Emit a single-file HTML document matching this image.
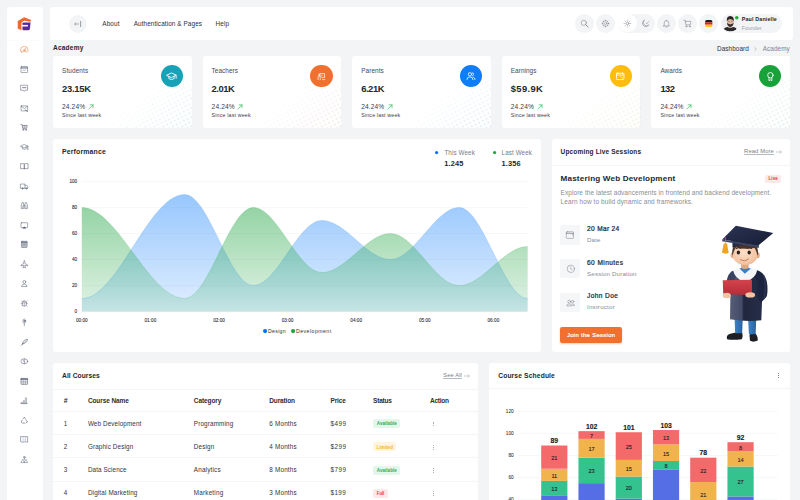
<!DOCTYPE html><html><head><meta charset="utf-8"><title>Academy Dashboard</title><style>
html,body{margin:0;padding:0;background:#f3f4f6;}
#pg{position:relative;width:800px;height:500px;overflow:hidden;background:#f3f4f6;font-family:"Liberation Sans", sans-serif;}
.t{position:absolute;white-space:nowrap;line-height:12px;height:12px;}
svg{position:absolute;overflow:visible}
</style></head><body><div id="pg">
<div style="position:absolute;left:7px;top:7px;width:35.5px;height:500px;background:#fff;border-radius:3px;"></div>
<div style="position:absolute;left:7px;top:40px;width:35.5px;height:1px;background:#fafbfc;border-radius:0px;"></div>
<svg style="left:17px;top:16.5px" width="15" height="15" viewBox="0 0 30 30">
<path d="M1.5 7.8 L14.4 0.6 L28.2 6.2 L27.4 9.4 L14.8 7.6 Q8.8 8.6 8.8 15 V26.6 L1.5 22.8 Z" fill="#ee6a2a"/>
<path d="M13 10.9 H27.2 L25.6 24 Q25.2 26.5 22.8 26.5 H12.8 Q10.9 26.5 10.9 24.5 V13 Q10.9 10.9 13 10.9 Z" fill="#5a2a9a"/>
<path d="M9.5 15.8 H21.8 V19 H9.5 Z" fill="#fff"/>
</svg>
<div style="position:absolute;left:50px;top:7px;width:743px;height:33px;background:#fff;border-radius:3px;"></div>
<div style="position:absolute;left:69px;top:14.5px;width:18px;height:18px;background:#f3f4f6;border-radius:9px;"></div>
<svg style="left:73px;top:19.5px" width="10" height="8" viewBox="0 0 10 8" fill="none" stroke="#8b919b" stroke-width="0.7"><path d="M1.5 4 H6 M3.3 2.3 L1.5 4 L3.3 5.7"/><path d="M7.6 1 V7" stroke="#5b6169" stroke-width="0.6"/></svg>
<div style="position:absolute;left:574.6999999999999px;top:13.5px;width:19.4px;height:19.4px;background:#f3f4f6;border-radius:9.7px;"></div>
<div style="position:absolute;left:596.0999999999999px;top:13.5px;width:19.4px;height:19.4px;background:#f3f4f6;border-radius:9.7px;"></div>
<div style="position:absolute;left:656.5px;top:13.5px;width:19.4px;height:19.4px;background:#f3f4f6;border-radius:9.7px;"></div>
<div style="position:absolute;left:677.9px;top:13.5px;width:19.4px;height:19.4px;background:#f3f4f6;border-radius:9.7px;"></div>
<div style="position:absolute;left:699.0999999999999px;top:13.5px;width:19.4px;height:19.4px;background:#f3f4f6;border-radius:9.7px;"></div>
<div style="position:absolute;left:617.7px;top:13.5px;width:37px;height:19.4px;background:#f3f4f6;border-radius:9.7px;"></div>
<div style="position:absolute;left:618.2px;top:14px;width:18.4px;height:18.4px;background:#fff;border-radius:9.2px;"></div>
<svg style="left:580px;top:19px" width="9" height="9" viewBox="0 0 9 9" fill="none" stroke="#7a808a" stroke-width="0.55" stroke-linecap="round" stroke-linejoin="round"><circle cx="3.8" cy="3.8" r="2.6"/><path d="M5.8 5.8 L8 8" stroke-width="0.9"/></svg>
<svg style="left:601.3px;top:18.7px" width="9" height="9" viewBox="0 0 9 9" fill="none" stroke="#7a808a" stroke-width="0.55" stroke-linecap="round" stroke-linejoin="round"><circle cx="4.5" cy="4.5" r="2.9" stroke-width="0.5"/><circle cx="4.5" cy="4.5" r="1.2" stroke-width="0.5"/><path d="M4.5 0.8V1.6M4.5 7.4V8.2M0.8 4.5H1.6M7.4 4.5H8.2M1.9 1.9L2.45 2.45M6.55 6.55L7.1 7.1M1.9 7.1L2.45 6.55M6.55 2.45L7.1 1.9" stroke-width="0.9" stroke-linecap="butt"/></svg>
<svg style="left:622.9px;top:18.7px" width="9" height="9" viewBox="0 0 9 9" fill="none" stroke="#7a808a" stroke-width="0.55" stroke-linecap="round" stroke-linejoin="round"><circle cx="4.5" cy="4.5" r="1.3"/><path d="M4.5 1V2.2M4.5 6.8V8M1 4.5H2.2M6.8 4.5H8M2 2L2.9 2.9M6.1 6.1L7 7M2 7L2.9 6.1M6.1 2.9L7 2" stroke-width="0.42"/></svg>
<svg style="left:640.5px;top:18.7px" width="9" height="9" viewBox="0 0 9 9" fill="none" stroke="#7a808a" stroke-width="0.55" stroke-linecap="round" stroke-linejoin="round"><path d="M3.2 1.2 A3.4 3.4 0 1 0 7.8 5.8 A3 3 0 0 1 3.2 1.2 Z"/><path d="M5.2 4 L5.9 4.7 L7.6 2.6" stroke-width="0.55"/></svg>
<svg style="left:661.7px;top:18.7px" width="9" height="9" viewBox="0 0 9 9" fill="none" stroke="#7a808a" stroke-width="0.55" stroke-linecap="round" stroke-linejoin="round"><path d="M2.2 6.3 V4 A2.3 2.3 0 0 1 6.8 4 V6.3 L7.4 7 H1.6 Z"/><path d="M3.8 7.9 H5.2 M4.5 1.1 V1.7"/></svg>
<svg style="left:683px;top:18.9px" width="9" height="9" viewBox="0 0 9 9" fill="none" stroke="#7a808a" stroke-width="0.55" stroke-linecap="round" stroke-linejoin="round"><path d="M0.8 1.2 H2.2 L2.8 5.8 H7.3 L7.9 2.4 H2.4"/><circle cx="3.3" cy="7.3" r="0.6"/><circle cx="6.8" cy="7.3" r="0.6"/></svg>
<svg style="left:705.1px;top:19.9px" width="7.6" height="7" viewBox="0 0 7.6 7"><defs><clipPath id="fl"><rect width="7.6" height="7" rx="1.9"/></clipPath></defs><g clip-path="url(#fl)"><rect width="7.6" height="2.4" fill="#1a1a1a"/><rect y="2.4" width="7.6" height="2.3" fill="#dd1f1f"/><rect y="4.7" width="7.6" height="2.3" fill="#fcc611"/></g></svg>
<div style="position:absolute;left:720.8px;top:14px;width:61px;height:18.8px;background:#f3f4f6;border-radius:9.4px;"></div>
<svg style="left:722.3px;top:15.2px" width="16.6" height="16.6" viewBox="0 0 16.6 16.6"><defs><clipPath id="av"><circle cx="8.3" cy="8.3" r="8.3"/></clipPath></defs>
<g clip-path="url(#av)"><rect width="16.6" height="16.6" fill="#eef0f2"/>
<path d="M0.8 16.6 Q1.2 12.6 5.4 12 L8.3 13 L11.2 12 Q15.4 12.6 15.8 16.6 Z" fill="#2b2b2d"/>
<rect x="6.9" y="10" width="2.8" height="3" fill="#c9a48c"/>
<ellipse cx="8.3" cy="6.9" rx="3.3" ry="4.3" fill="#dcb8a0"/>
<path d="M5 7.4 Q5.1 11.6 8.3 11.9 Q11.5 11.6 11.6 7.4 Q10.8 9.3 8.3 9.2 Q5.8 9.3 5 7.4Z" fill="#3a3330"/>
<path d="M4.9 6.6 Q4.1 1.2 8.3 1 Q12.5 1.2 11.7 6.6 Q11.2 4.2 8.3 4 Q5.4 4.2 4.9 6.6Z" fill="#2a2523"/>
<path d="M6.2 6.4 H7.4 M9.2 6.4 H10.4" stroke="#3a3330" stroke-width="0.5"/>
</g></svg>
<svg style="left:734.00px;top:15.00px" width="5.6" height="5.6" viewBox="0 0 5.6 5.6"><circle cx="2.8" cy="2.8" r="1.8" fill="#1fae3b"/></svg>
<svg style="left:754px;top:46.6px" width="3" height="4" viewBox="0 0 3 4" fill="none" stroke="#a0a5ae" stroke-width="0.6"><path d="M0.6 0.5 L2.3 2 L0.6 3.5"/></svg>
<svg width="0" height="0" style="left:0;top:0"><defs><linearGradient id="dfade" x1="0" y1="0" x2="1" y2="1"><stop offset="0.42" stop-color="#fff" stop-opacity="0"/><stop offset="0.6" stop-color="#fff" stop-opacity="0.45"/><stop offset="1" stop-color="#fff" stop-opacity="1"/></linearGradient><linearGradient id="dfade2" x1="0" y1="0" x2="1" y2="1"><stop offset="0.6" stop-color="#fff" stop-opacity="0"/><stop offset="1" stop-color="#fff" stop-opacity="1"/></linearGradient><mask id="dmask" maskContentUnits="objectBoundingBox"><rect width="1" height="1" fill="url(#dfade)"/></mask><mask id="dmask2" maskContentUnits="objectBoundingBox"><rect width="1" height="1" fill="url(#dfade2)"/></mask></defs></svg>
<div style="position:absolute;left:53.0px;top:56.4px;width:138.7px;height:71.3px;background:#fff;border-radius:3px;"></div>
<svg style="left:99.70px;top:59.70px" width="92.0" height="68.0" viewBox="0 0 92.0 68.0"><defs><pattern id="dp0" width="4.1" height="4.1" patternUnits="userSpaceOnUse" patternTransform="rotate(-27)"><circle cx="2.05" cy="2.05" r="0.85" fill="#59a4bf" fill-opacity="0.16"/></pattern><pattern id="dq0" width="4.1" height="4.1" patternUnits="userSpaceOnUse" patternTransform="rotate(-27)"><circle cx="2.05" cy="2.05" r="1.2" fill="#59a4bf" fill-opacity="0.09"/></pattern><clipPath id="dc0"><rect width="92.0" height="68.0" rx="3"/></clipPath></defs><g clip-path="url(#dc0)"><rect width="92.0" height="68.0" fill="url(#dp0)" mask="url(#dmask)"/><rect width="92.0" height="68.0" fill="url(#dq0)" mask="url(#dmask2)"/></g></svg>
<div style="position:absolute;left:160.75px;top:65.10000000000001px;width:22.2px;height:22.2px;background:#17a2b8;border-radius:11.1px;"></div>
<svg style="left:87.70px;top:103.7px" width="5.9" height="5.9" viewBox="0 0 5.4 5.4" fill="none" stroke="#35bd62" stroke-width="0.65" stroke-linecap="round" stroke-linejoin="round"><path d="M0.8 4.6 L4.6 0.8 M1.9 0.8 H4.6 V3.5"/></svg>
<div style="position:absolute;left:202.6px;top:56.4px;width:138.7px;height:71.3px;background:#fff;border-radius:3px;"></div>
<svg style="left:249.30px;top:59.70px" width="92.0" height="68.0" viewBox="0 0 92.0 68.0"><defs><pattern id="dp1" width="4.1" height="4.1" patternUnits="userSpaceOnUse" patternTransform="rotate(-27)"><circle cx="2.05" cy="2.05" r="0.85" fill="#bb8e81" fill-opacity="0.16"/></pattern><pattern id="dq1" width="4.1" height="4.1" patternUnits="userSpaceOnUse" patternTransform="rotate(-27)"><circle cx="2.05" cy="2.05" r="1.2" fill="#bb8e81" fill-opacity="0.09"/></pattern><clipPath id="dc1"><rect width="92.0" height="68.0" rx="3"/></clipPath></defs><g clip-path="url(#dc1)"><rect width="92.0" height="68.0" fill="url(#dp1)" mask="url(#dmask)"/><rect width="92.0" height="68.0" fill="url(#dq1)" mask="url(#dmask2)"/></g></svg>
<div style="position:absolute;left:310.34999999999997px;top:65.10000000000001px;width:22.2px;height:22.2px;background:#f0712f;border-radius:11.1px;"></div>
<svg style="left:237.30px;top:103.7px" width="5.9" height="5.9" viewBox="0 0 5.4 5.4" fill="none" stroke="#35bd62" stroke-width="0.65" stroke-linecap="round" stroke-linejoin="round"><path d="M0.8 4.6 L4.6 0.8 M1.9 0.8 H4.6 V3.5"/></svg>
<div style="position:absolute;left:352.2px;top:56.4px;width:138.7px;height:71.3px;background:#fff;border-radius:3px;"></div>
<svg style="left:398.90px;top:59.70px" width="92.0" height="68.0" viewBox="0 0 92.0 68.0"><defs><pattern id="dp2" width="4.1" height="4.1" patternUnits="userSpaceOnUse" patternTransform="rotate(-27)"><circle cx="2.05" cy="2.05" r="0.85" fill="#5594db" fill-opacity="0.16"/></pattern><pattern id="dq2" width="4.1" height="4.1" patternUnits="userSpaceOnUse" patternTransform="rotate(-27)"><circle cx="2.05" cy="2.05" r="1.2" fill="#5594db" fill-opacity="0.09"/></pattern><clipPath id="dc2"><rect width="92.0" height="68.0" rx="3"/></clipPath></defs><g clip-path="url(#dc2)"><rect width="92.0" height="68.0" fill="url(#dp2)" mask="url(#dmask)"/><rect width="92.0" height="68.0" fill="url(#dq2)" mask="url(#dmask2)"/></g></svg>
<div style="position:absolute;left:459.94999999999993px;top:65.10000000000001px;width:22.2px;height:22.2px;background:#0f7df8;border-radius:11.1px;"></div>
<svg style="left:386.90px;top:103.7px" width="5.9" height="5.9" viewBox="0 0 5.4 5.4" fill="none" stroke="#35bd62" stroke-width="0.65" stroke-linecap="round" stroke-linejoin="round"><path d="M0.8 4.6 L4.6 0.8 M1.9 0.8 H4.6 V3.5"/></svg>
<div style="position:absolute;left:501.79999999999995px;top:56.4px;width:138.7px;height:71.3px;background:#fff;border-radius:3px;"></div>
<svg style="left:548.50px;top:59.70px" width="92.0" height="68.0" viewBox="0 0 92.0 68.0"><defs><pattern id="dp3" width="4.1" height="4.1" patternUnits="userSpaceOnUse" patternTransform="rotate(-27)"><circle cx="2.05" cy="2.05" r="0.85" fill="#c0b072" fill-opacity="0.16"/></pattern><pattern id="dq3" width="4.1" height="4.1" patternUnits="userSpaceOnUse" patternTransform="rotate(-27)"><circle cx="2.05" cy="2.05" r="1.2" fill="#c0b072" fill-opacity="0.09"/></pattern><clipPath id="dc3"><rect width="92.0" height="68.0" rx="3"/></clipPath></defs><g clip-path="url(#dc3)"><rect width="92.0" height="68.0" fill="url(#dp3)" mask="url(#dmask)"/><rect width="92.0" height="68.0" fill="url(#dq3)" mask="url(#dmask2)"/></g></svg>
<div style="position:absolute;left:609.55px;top:65.10000000000001px;width:22.2px;height:22.2px;background:#fdbc0e;border-radius:11.1px;"></div>
<svg style="left:536.50px;top:103.7px" width="5.9" height="5.9" viewBox="0 0 5.4 5.4" fill="none" stroke="#35bd62" stroke-width="0.65" stroke-linecap="round" stroke-linejoin="round"><path d="M0.8 4.6 L4.6 0.8 M1.9 0.8 H4.6 V3.5"/></svg>
<div style="position:absolute;left:651.4px;top:56.4px;width:138.7px;height:71.3px;background:#fff;border-radius:3px;"></div>
<svg style="left:698.10px;top:59.70px" width="92.0" height="68.0" viewBox="0 0 92.0 68.0"><defs><pattern id="dp4" width="4.1" height="4.1" patternUnits="userSpaceOnUse" patternTransform="rotate(-27)"><circle cx="2.05" cy="2.05" r="0.85" fill="#59a586" fill-opacity="0.16"/></pattern><pattern id="dq4" width="4.1" height="4.1" patternUnits="userSpaceOnUse" patternTransform="rotate(-27)"><circle cx="2.05" cy="2.05" r="1.2" fill="#59a586" fill-opacity="0.09"/></pattern><clipPath id="dc4"><rect width="92.0" height="68.0" rx="3"/></clipPath></defs><g clip-path="url(#dc4)"><rect width="92.0" height="68.0" fill="url(#dp4)" mask="url(#dmask)"/><rect width="92.0" height="68.0" fill="url(#dq4)" mask="url(#dmask2)"/></g></svg>
<div style="position:absolute;left:759.15px;top:65.10000000000001px;width:22.2px;height:22.2px;background:#17a33a;border-radius:11.1px;"></div>
<svg style="left:686.10px;top:103.7px" width="5.9" height="5.9" viewBox="0 0 5.4 5.4" fill="none" stroke="#35bd62" stroke-width="0.65" stroke-linecap="round" stroke-linejoin="round"><path d="M0.8 4.6 L4.6 0.8 M1.9 0.8 H4.6 V3.5"/></svg>
<svg style="left:166.35px;top:70.80px" width="11" height="11" viewBox="0 0 10 10" fill="none" stroke="#fff" stroke-width="0.8" stroke-linecap="round" stroke-linejoin="round"><path d="M0.8 3.8 L5 1.8 L9.2 3.8 L5 5.8 Z"/><path d="M2.6 4.9 V6.9 Q5 8.7 7.4 6.9 V4.9"/><path d="M9.2 3.8 V6.6"/></svg>
<svg style="left:317.10px;top:71.60px" width="9.0" height="9.0" viewBox="0 0 10 10" fill="none" stroke="#fff" stroke-width="0.8" stroke-linecap="round" stroke-linejoin="round"><path d="M3.2 1.8 H8.4 V6.2 H5.6"/><circle cx="2.5" cy="3.2" r="0.9"/><path d="M1.2 8.4 V5.6 Q1.2 4.9 2 4.9 H4.4 L5.8 4 M3.6 8.4 V6.4 M6.2 8.4 H8.6"/></svg>
<svg style="left:466.05px;top:71.35px" width="9.9" height="9.9" viewBox="0 0 10 10" fill="none" stroke="#fff" stroke-width="0.8" stroke-linecap="round" stroke-linejoin="round"><circle cx="4" cy="3.3" r="1.7"/><path d="M0.9 8.6 Q1 5.9 4 5.9 Q7 5.9 7.1 8.6"/><path d="M6.4 1.8 Q7.9 2.1 7.7 3.6 Q7.5 4.7 6.6 4.9 M7.6 6.2 Q9 6.6 9.1 8.6"/></svg>
<svg style="left:615.40px;top:71.20px" width="10.4" height="10.4" viewBox="0 0 10 10" fill="none" stroke="#fff" stroke-width="0.8" stroke-linecap="round" stroke-linejoin="round"><rect x="1.4" y="2.2" width="7.2" height="6" rx="0.5"/><path d="M1.4 3.9 H8.6"/><path d="M2.8 1.6 V2.6 M7.2 1.6 V2.6" /><path d="M5.2 5.4 L7.4 6.6" stroke-width="0.6"/></svg>
<svg style="left:764.90px;top:71.00px" width="10.8" height="10.8" viewBox="0 0 10 10" fill="none" stroke="#fff" stroke-width="0.8" stroke-linecap="round" stroke-linejoin="round"><circle cx="5" cy="3.9" r="2.5"/><path d="M3.7 6.1 V9 L5 8.2 L6.3 9 V6.1"/></svg>
<div style="position:absolute;left:53px;top:138.7px;width:488px;height:213px;background:#fff;border-radius:3px;"></div>
<svg style="left:434.40px;top:150.10px" width="5.2" height="5.2" viewBox="0 0 5.2 5.2"><circle cx="2.6" cy="2.6" r="1.6" fill="#0d6efd"/></svg>
<svg style="left:491.60px;top:150.10px" width="5.2" height="5.2" viewBox="0 0 5.2 5.2"><circle cx="2.6" cy="2.6" r="1.6" fill="#1fa53c"/></svg>
<svg style="left:0;top:0" width="800" height="500" viewBox="0 0 800 500"><defs><linearGradient id="gb" x1="0" y1="0" x2="0" y2="1"><stop offset="0" stop-color="#2f8ffb" stop-opacity="0.5"/><stop offset="1" stop-color="#2f8ffb" stop-opacity="0.15"/></linearGradient><linearGradient id="gg" x1="0" y1="0" x2="0" y2="1"><stop offset="0" stop-color="#2aa84a" stop-opacity="0.50"/><stop offset="1" stop-color="#2aa84a" stop-opacity="0.14"/></linearGradient></defs><path d="M81.8 311.60 H527.6" stroke="#eceef1" stroke-width="0.5"/><path d="M81.8 285.56 H527.6" stroke="#eceef1" stroke-width="0.5"/><path d="M81.8 259.52 H527.6" stroke="#eceef1" stroke-width="0.5"/><path d="M81.8 233.48 H527.6" stroke="#eceef1" stroke-width="0.5"/><path d="M81.8 207.44 H527.6" stroke="#eceef1" stroke-width="0.5"/><path d="M81.8 181.40 H527.6" stroke="#eceef1" stroke-width="0.5"/><path d="M81.80 298.58 C117.81 298.58 148.69 194.42 184.70 194.42 C208.71 194.42 229.29 285.56 253.30 285.56 C277.31 285.56 297.89 220.46 321.90 220.46 C345.91 220.46 366.49 259.52 390.50 259.52 C414.51 259.52 435.09 207.44 459.10 207.44 C483.11 207.44 503.69 298.58 527.70 298.58 L527.6 311.6 L81.8 311.6 Z" fill="url(#gb)"/><path d="M81.80 298.58 C117.81 298.58 148.69 194.42 184.70 194.42 C208.71 194.42 229.29 285.56 253.30 285.56 C277.31 285.56 297.89 220.46 321.90 220.46 C345.91 220.46 366.49 259.52 390.50 259.52 C414.51 259.52 435.09 207.44 459.10 207.44 C483.11 207.44 503.69 298.58 527.70 298.58" fill="none" stroke="#4a97fb" stroke-opacity="0.55" stroke-width="0.45"/><path d="M81.80 207.44 C117.81 207.44 148.69 298.58 184.70 298.58 C208.71 298.58 229.29 207.44 253.30 207.44 C277.31 207.44 297.89 272.54 321.90 272.54 C345.91 272.54 366.49 233.48 390.50 233.48 C414.51 233.48 435.09 285.56 459.10 285.56 C483.11 285.56 503.69 246.50 527.70 246.50 L527.6 311.6 L81.8 311.6 Z" fill="url(#gg)"/><path d="M81.80 207.44 C117.81 207.44 148.69 298.58 184.70 298.58 C208.71 298.58 229.29 207.44 253.30 207.44 C277.31 207.44 297.89 272.54 321.90 272.54 C345.91 272.54 366.49 233.48 390.50 233.48 C414.51 233.48 435.09 285.56 459.10 285.56 C483.11 285.56 503.69 246.50 527.70 246.50" fill="none" stroke="#49b565" stroke-opacity="0.55" stroke-width="0.45"/><path d="M81.80 311.6 v1.6" stroke="#e0e2e6" stroke-width="0.4"/><path d="M150.40 311.6 v1.6" stroke="#e0e2e6" stroke-width="0.4"/><path d="M219.00 311.6 v1.6" stroke="#e0e2e6" stroke-width="0.4"/><path d="M287.60 311.6 v1.6" stroke="#e0e2e6" stroke-width="0.4"/><path d="M356.20 311.6 v1.6" stroke="#e0e2e6" stroke-width="0.4"/><path d="M424.80 311.6 v1.6" stroke="#e0e2e6" stroke-width="0.4"/><path d="M493.40 311.6 v1.6" stroke="#e0e2e6" stroke-width="0.4"/></svg>
<svg style="left:261.70px;top:328.00px" width="6.2" height="6.2" viewBox="0 0 6.2 6.2"><circle cx="3.1" cy="3.1" r="2.1" fill="#0d6efd"/></svg>
<svg style="left:289.70px;top:328.00px" width="6.2" height="6.2" viewBox="0 0 6.2 6.2"><circle cx="3.1" cy="3.1" r="2.1" fill="#1fa53c"/></svg>
<div style="position:absolute;left:551.6px;top:138.7px;width:238.6px;height:213px;background:#fff;border-radius:3px;"></div>
<div style="position:absolute;left:551.6px;top:165px;width:238.6px;height:1px;background:#f4f5f7;border-radius:0px;"></div>
<svg style="left:775.6px;top:150px" width="6" height="4" viewBox="0 0 6 4" fill="none" stroke="#8a8f98" stroke-width="0.42" stroke-linecap="round" stroke-linejoin="round"><path d="M0.4 2 H5.4 M3.9 0.6 L5.4 2 L3.9 3.4"/></svg>
<div style="position:absolute;left:765px;top:174.5px;width:16.3px;height:8.6px;background:#fde8e8;border-radius:2px;"></div>
<div style="position:absolute;left:560.4px;top:225px;width:19.8px;height:19.5px;background:#f5f6f8;border-radius:2px;"></div>
<div style="position:absolute;left:560.4px;top:258.7px;width:19.8px;height:19.5px;background:#f5f6f8;border-radius:2px;"></div>
<div style="position:absolute;left:560.4px;top:292.5px;width:19.8px;height:19.5px;background:#f5f6f8;border-radius:2px;"></div>
<svg style="left:565.40px;top:229.70px" width="9.8" height="9.8" viewBox="0 0 10 10" fill="none" stroke="#7d838d" stroke-width="0.55" stroke-linecap="round" stroke-linejoin="round"><rect x="1.3" y="1.8" width="7.4" height="6.8" rx="1"/><path d="M1.3 3.4 H8.7" stroke-width="0.8"/><path d="M7.6 4.6 V5.2"/></svg>
<svg style="left:565.50px;top:263.60px" width="9.6" height="9.6" viewBox="0 0 10 10" fill="none" stroke="#7d838d" stroke-width="0.55" stroke-linecap="round" stroke-linejoin="round"><circle cx="5" cy="5" r="3.8"/><path d="M5 2.9 V5 L6.5 6"/></svg>
<svg style="left:565.60px;top:297.60px" width="9.4" height="9.4" viewBox="0 0 10 10" fill="none" stroke="#7d838d" stroke-width="0.55" stroke-linecap="round" stroke-linejoin="round"><circle cx="3.4" cy="3.8" r="1.5"/><circle cx="7" cy="3.8" r="1.3"/><path d="M0.9 8 Q1 6.2 3.4 6.2 Q5.8 6.2 5.9 8 Z M6.4 6.2 Q8.9 6 9.1 8 H7"/></svg>
<div style="position:absolute;left:560.4px;top:326.6px;width:61.8px;height:16.6px;background:#f26f2d;border-radius:2.2px;box-shadow:0 1px 2px rgba(242,111,45,0.35);"></div>
<svg style="left:700px;top:215px" width="90" height="135" viewBox="0 0 333 500">
<defs>
<linearGradient id="gown" x1="0" y1="0" x2="1" y2="0"><stop offset="0" stop-color="#555d78"/><stop offset="0.36" stop-color="#434b66"/><stop offset="0.42" stop-color="#20273f"/><stop offset="1" stop-color="#262d47"/></linearGradient>
<linearGradient id="capg" x1="0" y1="0" x2="1" y2="1"><stop offset="0" stop-color="#2c3555"/><stop offset="1" stop-color="#161c33"/></linearGradient>
<radialGradient id="skin" cx="0.45" cy="0.4" r="0.75"><stop offset="0" stop-color="#fde0c9"/><stop offset="0.7" stop-color="#f3c4a3"/><stop offset="1" stop-color="#dc9f7c"/></radialGradient>
<linearGradient id="book" x1="0" y1="0" x2="0" y2="1"><stop offset="0" stop-color="#d4434c"/><stop offset="1" stop-color="#b32c37"/></linearGradient>
<linearGradient id="jean" x1="0" y1="0" x2="1" y2="0"><stop offset="0" stop-color="#3d83c6"/><stop offset="1" stop-color="#2a62a3"/></linearGradient>
</defs>
<!-- shoes -->
<path d="M99 452 Q100 440 128 436 L156 436 Q160 452 154 460 Q120 464 100 460 Z" fill="#1e1f24"/>
<path d="M183 444 Q184 438 206 440 Q216 452 213 466 Q196 472 185 466 Z" fill="#1e1f24"/>
<!-- legs -->
<path d="M128 384 H158 L156 438 H130 Z" fill="url(#jean)"/>
<path d="M178 384 H208 L206 442 H181 Z" fill="url(#jean)"/>
<!-- gown body -->
<path d="M118 208 Q165 192 214 206 Q230 214 232 250 L227 390 Q170 396 111 386 L113 250 Q112 216 118 208 Z" fill="url(#gown)"/>
<!-- right sleeve (viewer right) -->
<path d="M206 204 Q244 212 249 258 Q252 296 244 306 L226 324 Q214 312 208 290 Q222 258 204 230 Z" fill="#1c2440"/>
<path d="M236 222 Q246 262 238 312" fill="none" stroke="#39425f" stroke-width="3"/>
<!-- left sleeve -->
<path d="M124 206 Q102 214 98 250 L92 292 Q106 302 118 296 Q120 250 132 230 Z" fill="#39435f"/>
<!-- collar white -->
<path d="M122 204 Q140 196 150 196 L166 216 L184 196 Q200 196 212 204 Q206 236 166 250 Q128 236 122 204 Z" fill="#f4f5f7"/>
<path d="M146 198 Q165 190 188 198 L166 218 Z" fill="#3f7fc4"/>
<!-- neck -->
<path d="M152 176 H180 V196 Q166 204 152 196 Z" fill="#e3a683"/>
<!-- ears -->
<ellipse cx="121" cy="149" rx="8" ry="11" fill="#eab390"/>
<ellipse cx="213" cy="149" rx="8" ry="11" fill="#e0a47f"/>
<!-- head -->
<ellipse cx="167" cy="146" rx="46" ry="40" fill="url(#skin)"/>
<!-- hair -->
<path d="M120 152 Q112 100 165 96 Q222 100 214 152 Q209 132 202 122 Q162 128 133 120 Q124 132 120 152 Z" fill="#4a342a"/>
<!-- brows, eyes, smile -->
<path d="M134 124 Q142 119 151 123 M174 123 Q183 119 191 124" fill="none" stroke="#3a2a22" stroke-width="3.5" stroke-linecap="round"/>
<ellipse cx="142" cy="139" rx="6.2" ry="7.6" fill="#2a2220"/>
<ellipse cx="182" cy="139" rx="6.2" ry="7.6" fill="#2a2220"/>
<path d="M150 165 Q164 175 179 163" fill="none" stroke="#b5694d" stroke-width="3" stroke-linecap="round"/>
<!-- cap -->
<path d="M120 92 Q166 76 217 96 L217 122 Q168 100 120 120 Z" fill="#232b47"/>
<path d="M82 91 L217 113 L217 120 L82 97 Z" fill="#3c4666"/>
<path d="M82 90.7 L132.5 40 L271 66.6 L216.6 112.3 Z" fill="url(#capg)"/>
<!-- tassel -->
<path d="M94 82 V110" stroke="#d98d16" stroke-width="2.6"/>
<path d="M88 106 H100 L106 140 Q95 147 81 139 Z" fill="#f0a31e"/>
<!-- book -->
<path d="M84 242 L192 240 L193 298 L86 292 Z" fill="url(#book)"/>
<!-- hands -->
<ellipse cx="99" cy="298" rx="15" ry="10" fill="#f3c3a3"/>
<ellipse cx="186" cy="296" rx="18" ry="10" fill="#f3c3a3"/>
</svg>
<div style="position:absolute;left:53px;top:362.9px;width:425px;height:140px;background:#fff;border-radius:3px;"></div>
<svg style="left:463.6px;top:373.8px" width="6" height="4" viewBox="0 0 6 4" fill="none" stroke="#8a8f98" stroke-width="0.42" stroke-linecap="round" stroke-linejoin="round"><path d="M0.4 2 H5.4 M3.9 0.6 L5.4 2 L3.9 3.4"/></svg>
<div style="position:absolute;left:53px;top:389px;width:425px;height:1px;background:#f4f5f7;border-radius:0px;"></div>
<div style="position:absolute;left:53px;top:411px;width:425px;height:1px;background:#f4f5f7;border-radius:0px;"></div>
<div style="position:absolute;left:53px;top:434px;width:425px;height:1px;background:#f4f5f7;border-radius:0px;"></div>
<div style="position:absolute;left:53px;top:457px;width:425px;height:1px;background:#f4f5f7;border-radius:0px;"></div>
<div style="position:absolute;left:53px;top:481px;width:425px;height:1px;background:#f4f5f7;border-radius:0px;"></div>
<div style="position:absolute;left:373.1px;top:419.20000000000005px;width:27.4px;height:9.1px;background:#e3f6ea;border-radius:2px;"></div>
<svg style="left:431.57px;top:420.52px" width="2.96" height="2.96" viewBox="0 0 2.96 2.96"><circle cx="1.48" cy="1.48" r="0.48" fill="#5b626c"/></svg>
<svg style="left:431.57px;top:422.42px" width="2.96" height="2.96" viewBox="0 0 2.96 2.96"><circle cx="1.48" cy="1.48" r="0.48" fill="#5b626c"/></svg>
<svg style="left:431.57px;top:424.32px" width="2.96" height="2.96" viewBox="0 0 2.96 2.96"><circle cx="1.48" cy="1.48" r="0.48" fill="#5b626c"/></svg>
<div style="position:absolute;left:373.1px;top:442.40000000000003px;width:23.4px;height:9.1px;background:#fff5df;border-radius:2px;"></div>
<svg style="left:431.57px;top:443.72px" width="2.96" height="2.96" viewBox="0 0 2.96 2.96"><circle cx="1.48" cy="1.48" r="0.48" fill="#5b626c"/></svg>
<svg style="left:431.57px;top:445.62px" width="2.96" height="2.96" viewBox="0 0 2.96 2.96"><circle cx="1.48" cy="1.48" r="0.48" fill="#5b626c"/></svg>
<svg style="left:431.57px;top:447.52px" width="2.96" height="2.96" viewBox="0 0 2.96 2.96"><circle cx="1.48" cy="1.48" r="0.48" fill="#5b626c"/></svg>
<div style="position:absolute;left:373.1px;top:465.6px;width:27.4px;height:9.1px;background:#e3f6ea;border-radius:2px;"></div>
<svg style="left:431.57px;top:466.92px" width="2.96" height="2.96" viewBox="0 0 2.96 2.96"><circle cx="1.48" cy="1.48" r="0.48" fill="#5b626c"/></svg>
<svg style="left:431.57px;top:468.82px" width="2.96" height="2.96" viewBox="0 0 2.96 2.96"><circle cx="1.48" cy="1.48" r="0.48" fill="#5b626c"/></svg>
<svg style="left:431.57px;top:470.72px" width="2.96" height="2.96" viewBox="0 0 2.96 2.96"><circle cx="1.48" cy="1.48" r="0.48" fill="#5b626c"/></svg>
<div style="position:absolute;left:373.1px;top:488.80000000000007px;width:14.8px;height:9.1px;background:#fde8e8;border-radius:2px;"></div>
<svg style="left:431.57px;top:490.12px" width="2.96" height="2.96" viewBox="0 0 2.96 2.96"><circle cx="1.48" cy="1.48" r="0.48" fill="#5b626c"/></svg>
<svg style="left:431.57px;top:492.02px" width="2.96" height="2.96" viewBox="0 0 2.96 2.96"><circle cx="1.48" cy="1.48" r="0.48" fill="#5b626c"/></svg>
<svg style="left:431.57px;top:493.92px" width="2.96" height="2.96" viewBox="0 0 2.96 2.96"><circle cx="1.48" cy="1.48" r="0.48" fill="#5b626c"/></svg>
<div style="position:absolute;left:488.7px;top:362.9px;width:301.5px;height:140px;background:#fff;border-radius:3px;"></div>
<div style="position:absolute;left:488.7px;top:388px;width:301.5px;height:1px;background:#f4f5f7;border-radius:0px;"></div>
<svg style="left:776.50px;top:372.10px" width="3.0" height="3.0" viewBox="0 0 3.0 3.0"><circle cx="1.5" cy="1.5" r="0.5" fill="#5b626c"/></svg>
<svg style="left:776.50px;top:374.10px" width="3.0" height="3.0" viewBox="0 0 3.0 3.0"><circle cx="1.5" cy="1.5" r="0.5" fill="#5b626c"/></svg>
<svg style="left:776.50px;top:376.10px" width="3.0" height="3.0" viewBox="0 0 3.0 3.0"><circle cx="1.5" cy="1.5" r="0.5" fill="#5b626c"/></svg>
<svg style="left:0;top:0" width="800" height="500" viewBox="0 0 800 500"><path d="M518 499.74 H777.5" stroke="#eceef1" stroke-width="0.5"/><path d="M518 477.61 H777.5" stroke="#eceef1" stroke-width="0.5"/><path d="M518 455.48 H777.5" stroke="#eceef1" stroke-width="0.5"/><path d="M518 433.35 H777.5" stroke="#eceef1" stroke-width="0.5"/><path d="M518 411.22 H777.5" stroke="#eceef1" stroke-width="0.5"/><rect x="541.20" y="495.31" width="26.2" height="48.69" fill="#556ee6"/><rect x="541.20" y="480.93" width="26.2" height="14.38" fill="#34c38f"/><rect x="541.20" y="468.76" width="26.2" height="12.17" fill="#f1b44c"/><rect x="541.20" y="445.52" width="26.2" height="23.24" fill="#f46a6a"/><rect x="578.45" y="483.14" width="26.2" height="60.86" fill="#556ee6"/><rect x="578.45" y="457.69" width="26.2" height="25.45" fill="#34c38f"/><rect x="578.45" y="438.88" width="26.2" height="18.81" fill="#f1b44c"/><rect x="578.45" y="431.14" width="26.2" height="7.75" fill="#f46a6a"/><rect x="615.70" y="498.63" width="26.2" height="45.37" fill="#556ee6"/><rect x="615.70" y="476.50" width="26.2" height="22.13" fill="#34c38f"/><rect x="615.70" y="459.91" width="26.2" height="16.60" fill="#f1b44c"/><rect x="615.70" y="432.24" width="26.2" height="27.66" fill="#f46a6a"/><rect x="652.95" y="469.86" width="26.2" height="74.14" fill="#556ee6"/><rect x="652.95" y="461.01" width="26.2" height="8.85" fill="#34c38f"/><rect x="652.95" y="444.41" width="26.2" height="16.60" fill="#f1b44c"/><rect x="652.95" y="430.03" width="26.2" height="14.38" fill="#f46a6a"/><rect x="690.20" y="519.66" width="26.2" height="24.34" fill="#556ee6"/><rect x="690.20" y="505.27" width="26.2" height="14.38" fill="#34c38f"/><rect x="690.20" y="482.04" width="26.2" height="23.24" fill="#f1b44c"/><rect x="690.20" y="457.69" width="26.2" height="24.34" fill="#f46a6a"/><rect x="727.45" y="496.42" width="26.2" height="47.58" fill="#556ee6"/><rect x="727.45" y="466.55" width="26.2" height="29.88" fill="#34c38f"/><rect x="727.45" y="451.05" width="26.2" height="15.49" fill="#f1b44c"/><rect x="727.45" y="442.20" width="26.2" height="8.85" fill="#f46a6a"/></svg>
<svg style="left:20.00px;top:45.40px" width="8.6" height="8.6" viewBox="0 0 10 10" fill="none" stroke="#f0753a" stroke-width="0.62" stroke-linecap="round" stroke-linejoin="round"><path d="M1.6 8.2 Q0.5 7.4 0.6 5.8 A4.4 4.2 0 0 1 9.4 5.8 Q9.5 7.4 8.4 8.2 Q8 8.5 7.6 8.1 Q5 6.6 2.4 8.1 Q2 8.5 1.6 8.2 Z"/><circle cx="5" cy="6" r="1"/><path d="M5.6 5.2 L6.9 3.6"/></svg>
<svg style="left:20.00px;top:64.90px" width="8.6" height="8.6" viewBox="0 0 10 10" fill="none" stroke="#596173" stroke-width="0.62" stroke-linecap="round" stroke-linejoin="round"><rect x="1.2" y="1.8" width="7.6" height="7" rx="0.6"/><path d="M1.2 3.4 H8.8" stroke-width="1.1"/><path d="M3.4 6.6 L4.4 5.8 L5.4 6.3 L6.6 5.2" stroke-width="0.5"/></svg>
<svg style="left:20.00px;top:84.40px" width="8.6" height="8.6" viewBox="0 0 10 10" fill="none" stroke="#596173" stroke-width="0.62" stroke-linecap="round" stroke-linejoin="round"><path d="M1.2 1.4 H8.8 V7.2 H6 L5 8.6 L4 7.2 H1.2 Z"/><path d="M3 4.3 H7" stroke-width="0.9"/></svg>
<svg style="left:20.00px;top:103.90px" width="8.6" height="8.6" viewBox="0 0 10 10" fill="none" stroke="#596173" stroke-width="0.62" stroke-linecap="round" stroke-linejoin="round"><rect x="1.2" y="2.2" width="7.6" height="5.8" rx="0.5"/><path d="M1.4 2.6 L5 5.4 L8.6 2.6"/><path d="M6.2 7 L8.8 8.6" stroke-width="0.9"/></svg>
<svg style="left:20.00px;top:123.40px" width="8.6" height="8.6" viewBox="0 0 10 10" fill="none" stroke="#596173" stroke-width="0.62" stroke-linecap="round" stroke-linejoin="round"><path d="M0.9 1.6 H2.4 L3.2 6.2 H7.6 L8.6 2.8 H2.8" /><path d="M3.6 2.8 V6 M5.2 2.8 V6 M6.8 2.8 V6" stroke-width="0.5"/><circle cx="3.7" cy="7.9" r="0.7"/><circle cx="7" cy="7.9" r="0.7"/></svg>
<svg style="left:20.00px;top:142.90px" width="8.6" height="8.6" viewBox="0 0 10 10" fill="none" stroke="#596173" stroke-width="0.62" stroke-linecap="round" stroke-linejoin="round"><path d="M0.9 3.6 L5 1.7 L9.1 3.6 L5 5.5 Z"/><path d="M2.7 4.6 V6.6 Q5 8.2 7.3 6.6 V4.6"/><path d="M9.1 3.6 V7.8" stroke-width="0.8"/></svg>
<svg style="left:20.00px;top:162.40px" width="8.6" height="8.6" viewBox="0 0 10 10" fill="none" stroke="#596173" stroke-width="0.62" stroke-linecap="round" stroke-linejoin="round"><path d="M1.1 1.9 H4.2 Q5 1.9 5 2.7 V8.3 Q5 7.7 4.2 7.7 H1.1 Z M8.9 1.9 H5.8 Q5 1.9 5 2.7 V8.3 Q5 7.7 5.8 7.7 H8.9 Z"/></svg>
<svg style="left:20.00px;top:181.90px" width="8.6" height="8.6" viewBox="0 0 10 10" fill="none" stroke="#596173" stroke-width="0.62" stroke-linecap="round" stroke-linejoin="round"><path d="M0.9 2.4 H5.8 V7.2 H0.9 Z M5.8 3.8 H7.8 L9.1 5.4 V7.2 H5.8"/><circle cx="2.9" cy="7.6" r="0.8"/><circle cx="7.4" cy="7.6" r="0.8"/></svg>
<svg style="left:20.00px;top:201.40px" width="8.6" height="8.6" viewBox="0 0 10 10" fill="none" stroke="#596173" stroke-width="0.62" stroke-linecap="round" stroke-linejoin="round"><path d="M1.4 8.4 V4.8 L2.6 1.8 H3.8 L4.4 4.8 V8.4 Z M5.6 8.4 V4.8 L6.2 1.8 H7.4 L8.6 4.8 V8.4 Z M4.4 5.2 H5.6"/><path d="M2.9 6 V7.4 M7.1 6 V7.4" stroke-width="0.5"/></svg>
<svg style="left:20.00px;top:220.90px" width="8.6" height="8.6" viewBox="0 0 10 10" fill="none" stroke="#596173" stroke-width="0.62" stroke-linecap="round" stroke-linejoin="round"><rect x="1.1" y="2" width="7.8" height="5.6" rx="0.7"/><path d="M3.6 8.3 L5 6.7 L6.4 8.3 Z" fill="#596173"/></svg>
<svg style="left:20.00px;top:240.40px" width="8.6" height="8.6" viewBox="0 0 10 10" fill="none" stroke="#596173" stroke-width="0.62" stroke-linecap="round" stroke-linejoin="round"><rect x="1.7" y="1.5" width="6.6" height="7.2" rx="0.6" fill="#cfd3da"/><path d="M3 3.4 H7 M3 5.1 H7 M3 6.8 H7" stroke-width="0.55"/><path d="M1.7 2.6 H8.3" stroke-width="1"/></svg>
<svg style="left:20.00px;top:259.90px" width="8.6" height="8.6" viewBox="0 0 10 10" fill="none" stroke="#596173" stroke-width="0.62" stroke-linecap="round" stroke-linejoin="round"><path d="M5 1 Q5.7 1.6 5.7 3 V4 L8.9 5.8 V6.8 L5.7 6 V7.6 L6.7 8.4 V9 L5 8.6 L3.3 9 V8.4 L4.3 7.6 V6 L1.1 6.8 V5.8 L4.3 4 V3 Q4.3 1.6 5 1 Z"/></svg>
<svg style="left:20.00px;top:279.40px" width="8.6" height="8.6" viewBox="0 0 10 10" fill="none" stroke="#596173" stroke-width="0.62" stroke-linecap="round" stroke-linejoin="round"><circle cx="5" cy="3.4" r="1.7"/><path d="M1.8 8.3 Q2 5.9 5 5.9 Q8 5.9 8.2 8.3 Z"/></svg>
<svg style="left:20.00px;top:298.90px" width="8.6" height="8.6" viewBox="0 0 10 10" fill="none" stroke="#596173" stroke-width="0.62" stroke-linecap="round" stroke-linejoin="round"><rect x="2.6" y="2.4" width="4.8" height="5.8" rx="2"/><path d="M2.6 4.4 H7.4 M5 4.4 V8.2 M2.6 5.4 H1.2 M7.4 5.4 H8.8 M2.8 3 L1.8 2 M7.2 3 L8.2 2 M2.8 7.4 L1.8 8.4 M7.2 7.4 L8.2 8.4" stroke-width="0.5"/></svg>
<svg style="left:20.00px;top:318.40px" width="8.6" height="8.6" viewBox="0 0 10 10" fill="none" stroke="#596173" stroke-width="0.62" stroke-linecap="round" stroke-linejoin="round"><ellipse cx="5" cy="3.6" rx="1.6" ry="2.4"/><path d="M5 6 V9"/><circle cx="5" cy="3.4" r="0.6" fill="#596173"/></svg>
<svg style="left:20.00px;top:337.90px" width="8.6" height="8.6" viewBox="0 0 10 10" fill="none" stroke="#596173" stroke-width="0.62" stroke-linecap="round" stroke-linejoin="round"><path d="M1.3 8.7 L3.4 6.6 M3 7 Q2.6 4.4 5.2 2.6 Q7 1.4 8.8 1.4 Q8.6 3.2 7.4 4.6 Q5.6 6.8 3 7 Z M3.4 6.6 L7 3"/></svg>
<svg style="left:20.00px;top:357.40px" width="8.6" height="8.6" viewBox="0 0 10 10" fill="none" stroke="#596173" stroke-width="0.62" stroke-linecap="round" stroke-linejoin="round"><ellipse cx="5" cy="5" rx="4" ry="2.9"/><path d="M5 2.1 V7.9 M3.4 4 L5 5.2"/></svg>
<svg style="left:20.00px;top:376.90px" width="8.6" height="8.6" viewBox="0 0 10 10" fill="none" stroke="#596173" stroke-width="0.62" stroke-linecap="round" stroke-linejoin="round"><rect x="1.2" y="1.6" width="7.6" height="7" rx="0.4"/><path d="M1.2 2.5 H8.8" stroke-width="1.4"/><path d="M1.2 5 H8.8 M1.2 6.8 H8.8 M3.7 3.2 V8.6 M6.3 3.2 V8.6" stroke-width="0.45"/></svg>
<svg style="left:20.00px;top:396.40px" width="8.6" height="8.6" viewBox="0 0 10 10" fill="none" stroke="#596173" stroke-width="0.62" stroke-linecap="round" stroke-linejoin="round"><path d="M1.6 8.6 V7.4 H2.8 V8.6 Z M3.9 8.6 V5.4 H5.1 V8.6 Z M6.2 8.6 V2.2 H7.6 V8.6 Z M1 8.6 H8.6" stroke-width="0.5"/></svg>
<svg style="left:20.00px;top:415.90px" width="8.6" height="8.6" viewBox="0 0 10 10" fill="none" stroke="#596173" stroke-width="0.62" stroke-linecap="round" stroke-linejoin="round"><path d="M3.6 3.4 L5 1.4 L6.4 3.4 M7 4.4 L8.6 7 L6.6 8.2 M5.4 8.2 H2.6 L1.4 7 L2.6 5" stroke-dasharray="1.4 0.5"/></svg>
<svg style="left:20.00px;top:435.40px" width="8.6" height="8.6" viewBox="0 0 10 10" fill="none" stroke="#596173" stroke-width="0.62" stroke-linecap="round" stroke-linejoin="round"><path d="M1.1 1.8 H8.9 V8.4 L6.4 7.8 L3.6 8.4 L1.1 7.8 Z"/><path d="M3.6 1.8 V8.4 M6.4 1.8 V7.8" stroke="#9db8e8"/><path d="M5 1.8 V8"  stroke="#e8c3a0" stroke-width="0.4"/></svg>
<svg style="left:20.00px;top:454.90px" width="8.6" height="8.6" viewBox="0 0 10 10" fill="none" stroke="#596173" stroke-width="0.62" stroke-linecap="round" stroke-linejoin="round"><circle cx="5" cy="2.6" r="1"/><path d="M1.2 8.4 L3.2 5 L5 8.4 Z M5 8.4 L6.8 5 L8.8 8.4 Z M5 3.6 V5.6" stroke-width="0.55"/></svg>
<div class="t" style="top:18.00px;font-size:6.4px;font-weight:400;color:#2d3138;letter-spacing:0.179px;left:102.20px;">About</div>
<div class="t" style="top:18.00px;font-size:6.4px;font-weight:400;color:#2d3138;letter-spacing:0.089px;left:133.70px;">Authentication &amp; Pages</div>
<div class="t" style="top:18.00px;font-size:6.4px;font-weight:400;color:#2d3138;letter-spacing:0.111px;left:215.50px;">Help</div>
<div class="t" style="top:13.20px;font-size:5.3px;font-weight:700;color:#23272e;letter-spacing:0.170px;left:741.80px;">Paul Danielle</div>
<div class="t" style="top:21.80px;font-size:5.0px;font-weight:400;color:#9aa0a9;letter-spacing:0.196px;left:741.80px;">Founder</div>
<div class="t" style="top:42.30px;font-size:6.5px;font-weight:700;color:#23272e;letter-spacing:0.228px;left:53.00px;">Academy</div>
<div class="t" style="top:42.60px;font-size:6.4px;font-weight:400;color:#2d3138;letter-spacing:0.059px;left:717.00px;">Dashboard</div>
<div class="t" style="top:42.60px;font-size:6.4px;font-weight:400;color:#7d8595;letter-spacing:0.051px;left:762.80px;">Academy</div>
<div class="t" style="top:64.90px;font-size:6.4px;font-weight:400;color:#454a52;letter-spacing:0.121px;left:62.00px;">Students</div>
<div class="t" style="top:83.00px;font-size:9.4px;font-weight:700;color:#23272e;letter-spacing:-0.239px;left:62.00px;">23.15K</div>
<div class="t" style="top:101.10px;font-size:6.6px;font-weight:400;color:#3c4149;letter-spacing:0.137px;left:62.00px;">24.24%</div>
<div class="t" style="top:109.00px;font-size:5.3px;font-weight:400;color:#3c4149;letter-spacing:0.159px;left:62.00px;">Since last week</div>
<div class="t" style="top:64.90px;font-size:6.4px;font-weight:400;color:#454a52;letter-spacing:0.070px;left:211.60px;">Teachers</div>
<div class="t" style="top:83.00px;font-size:9.4px;font-weight:700;color:#23272e;letter-spacing:-0.486px;left:211.60px;">2.01K</div>
<div class="t" style="top:101.10px;font-size:6.6px;font-weight:400;color:#3c4149;letter-spacing:0.137px;left:211.60px;">24.24%</div>
<div class="t" style="top:109.00px;font-size:5.3px;font-weight:400;color:#3c4149;letter-spacing:0.159px;left:211.60px;">Since last week</div>
<div class="t" style="top:64.90px;font-size:6.4px;font-weight:400;color:#454a52;letter-spacing:0.081px;left:361.20px;">Parents</div>
<div class="t" style="top:83.00px;font-size:9.4px;font-weight:700;color:#23272e;letter-spacing:-0.446px;left:361.20px;">6.21K</div>
<div class="t" style="top:101.10px;font-size:6.6px;font-weight:400;color:#3c4149;letter-spacing:0.137px;left:361.20px;">24.24%</div>
<div class="t" style="top:109.00px;font-size:5.3px;font-weight:400;color:#3c4149;letter-spacing:0.159px;left:361.20px;">Since last week</div>
<div class="t" style="top:64.90px;font-size:6.4px;font-weight:400;color:#454a52;letter-spacing:0.046px;left:510.80px;">Earnings</div>
<div class="t" style="top:83.00px;font-size:9.4px;font-weight:700;color:#23272e;letter-spacing:0.361px;left:510.80px;">$59.9K</div>
<div class="t" style="top:101.10px;font-size:6.6px;font-weight:400;color:#3c4149;letter-spacing:0.137px;left:510.80px;">24.24%</div>
<div class="t" style="top:109.00px;font-size:5.3px;font-weight:400;color:#3c4149;letter-spacing:0.159px;left:510.80px;">Since last week</div>
<div class="t" style="top:64.90px;font-size:6.4px;font-weight:400;color:#454a52;letter-spacing:0.066px;left:660.40px;">Awards</div>
<div class="t" style="top:83.00px;font-size:9.4px;font-weight:700;color:#23272e;letter-spacing:-0.500px;left:660.40px;">132</div>
<div class="t" style="top:101.10px;font-size:6.6px;font-weight:400;color:#3c4149;letter-spacing:0.137px;left:660.40px;">24.24%</div>
<div class="t" style="top:109.00px;font-size:5.3px;font-weight:400;color:#3c4149;letter-spacing:0.159px;left:660.40px;">Since last week</div>
<div class="t" style="top:145.90px;font-size:6.9px;font-weight:700;color:#23272e;letter-spacing:0.169px;left:62.00px;">Performance</div>
<div class="t" style="top:147.00px;font-size:6.3px;font-weight:400;color:#777d87;letter-spacing:0.107px;left:444.40px;">This Week</div>
<div class="t" style="top:157.60px;font-size:7.4px;font-weight:700;color:#23272e;letter-spacing:0.180px;left:444.20px;">1.245</div>
<div class="t" style="top:147.00px;font-size:6.3px;font-weight:400;color:#777d87;letter-spacing:0.084px;left:501.60px;">Last Week</div>
<div class="t" style="top:157.60px;font-size:7.4px;font-weight:700;color:#23272e;letter-spacing:0.180px;left:501.40px;">1.356</div>
<div class="t" style="top:306.00px;font-size:4.7px;font-weight:400;color:#2f343a;right:722.80px;-webkit-text-stroke:0.1px #2f343a;">0</div>
<div class="t" style="top:279.96px;font-size:4.7px;font-weight:400;color:#2f343a;right:722.80px;-webkit-text-stroke:0.1px #2f343a;">20</div>
<div class="t" style="top:253.92px;font-size:4.7px;font-weight:400;color:#2f343a;right:722.80px;-webkit-text-stroke:0.1px #2f343a;">40</div>
<div class="t" style="top:227.88px;font-size:4.7px;font-weight:400;color:#2f343a;right:722.80px;-webkit-text-stroke:0.1px #2f343a;">60</div>
<div class="t" style="top:201.84px;font-size:4.7px;font-weight:400;color:#2f343a;right:722.80px;-webkit-text-stroke:0.1px #2f343a;">80</div>
<div class="t" style="top:175.80px;font-size:4.7px;font-weight:400;color:#2f343a;right:722.80px;-webkit-text-stroke:0.1px #2f343a;">100</div>
<div class="t" style="top:314.60px;font-size:4.7px;font-weight:400;color:#2f343a;left:-18.20px;width:200px;text-align:center;-webkit-text-stroke:0.1px #2f343a;">00:00</div>
<div class="t" style="top:314.60px;font-size:4.7px;font-weight:400;color:#2f343a;left:50.40px;width:200px;text-align:center;-webkit-text-stroke:0.1px #2f343a;">01:00</div>
<div class="t" style="top:314.60px;font-size:4.7px;font-weight:400;color:#2f343a;left:119.00px;width:200px;text-align:center;-webkit-text-stroke:0.1px #2f343a;">02:00</div>
<div class="t" style="top:314.60px;font-size:4.7px;font-weight:400;color:#2f343a;left:187.60px;width:200px;text-align:center;-webkit-text-stroke:0.1px #2f343a;">03:00</div>
<div class="t" style="top:314.60px;font-size:4.7px;font-weight:400;color:#2f343a;left:256.20px;width:200px;text-align:center;-webkit-text-stroke:0.1px #2f343a;">04:00</div>
<div class="t" style="top:314.60px;font-size:4.7px;font-weight:400;color:#2f343a;left:324.80px;width:200px;text-align:center;-webkit-text-stroke:0.1px #2f343a;">05:00</div>
<div class="t" style="top:314.60px;font-size:4.7px;font-weight:400;color:#2f343a;left:393.40px;width:200px;text-align:center;-webkit-text-stroke:0.1px #2f343a;">06:00</div>
<div class="t" style="top:325.00px;font-size:5.2px;font-weight:400;color:#2f343b;letter-spacing:0.307px;left:268.00px;">Design</div>
<div class="t" style="top:325.00px;font-size:5.2px;font-weight:400;color:#2f343b;letter-spacing:0.457px;left:296.00px;">Development</div>
<div class="t" style="top:145.60px;font-size:6.5px;font-weight:700;color:#23272e;letter-spacing:0.166px;left:560.60px;">Upcoming Live Sessions</div>
<div class="t" style="top:145.20px;font-size:5.8px;font-weight:400;color:#7a7f88;letter-spacing:0.124px;left:744.10px;text-decoration:underline;text-decoration-color:rgba(122,127,136,0.55);text-decoration-thickness:0.5px;text-underline-offset:0.6px;">Read More</div>
<div class="t" style="top:173.10px;font-size:8.1px;font-weight:700;color:#23272e;letter-spacing:0.172px;left:560.60px;">Mastering Web Development</div>
<div class="t" style="top:172.90px;font-size:4.5px;font-weight:700;color:#e5383b;letter-spacing:0.021px;left:768.60px;">Live</div>
<div class="t" style="top:187.20px;font-size:6.5px;font-weight:400;color:#888d96;letter-spacing:0.057px;left:560.60px;">Explore the latest advancements in frontend and backend development.</div>
<div class="t" style="top:196.20px;font-size:6.5px;font-weight:400;color:#888d96;letter-spacing:0.081px;left:560.60px;">Learn how to build dynamic and frameworks.</div>
<div class="t" style="top:222.90px;font-size:6.6px;font-weight:400;color:#24282e;-webkit-text-stroke:0.22px #24282e;letter-spacing:0.322px;left:587.00px;">20 Mar 24</div>
<div class="t" style="top:233.80px;font-size:6.2px;font-weight:400;color:#878c95;letter-spacing:0.130px;left:587.00px;">Date</div>
<div class="t" style="top:256.60px;font-size:6.6px;font-weight:400;color:#24282e;-webkit-text-stroke:0.22px #24282e;letter-spacing:0.413px;left:587.00px;">60 Minutes</div>
<div class="t" style="top:267.50px;font-size:6.2px;font-weight:400;color:#878c95;letter-spacing:0.155px;left:587.00px;">Session Duration</div>
<div class="t" style="top:290.40px;font-size:6.6px;font-weight:400;color:#24282e;-webkit-text-stroke:0.22px #24282e;letter-spacing:0.396px;left:587.00px;">John Doe</div>
<div class="t" style="top:301.30px;font-size:6.2px;font-weight:400;color:#878c95;letter-spacing:0.220px;left:587.00px;">Instructor</div>
<div class="t" style="top:328.90px;font-size:5.9px;font-weight:400;color:#fff;-webkit-text-stroke:0.22px #fff;letter-spacing:0.323px;left:567.00px;">Join the Session</div>
<div class="t" style="top:370.40px;font-size:6.7px;font-weight:700;color:#23272e;letter-spacing:0.057px;left:62.00px;">All Courses</div>
<div class="t" style="top:369.30px;font-size:5.8px;font-weight:400;color:#7a7f88;letter-spacing:0.077px;left:443.30px;text-decoration:underline;text-decoration-color:rgba(122,127,136,0.55);text-decoration-thickness:0.5px;text-underline-offset:0.6px;">See All</div>
<div class="t" style="top:394.60px;font-size:7.0px;font-weight:700;color:#2a2e35;left:63.70px;">#</div>
<div class="t" style="top:394.60px;font-size:6.5px;font-weight:700;color:#2a2e35;letter-spacing:-0.101px;left:87.90px;">Course Name</div>
<div class="t" style="top:394.60px;font-size:6.5px;font-weight:700;color:#2a2e35;letter-spacing:-0.086px;left:193.80px;">Category</div>
<div class="t" style="top:394.60px;font-size:6.5px;font-weight:700;color:#2a2e35;letter-spacing:-0.154px;left:269.30px;">Duration</div>
<div class="t" style="top:394.60px;font-size:6.5px;font-weight:700;color:#2a2e35;letter-spacing:-0.141px;left:330.50px;">Price</div>
<div class="t" style="top:394.60px;font-size:6.5px;font-weight:700;color:#2a2e35;letter-spacing:-0.196px;left:373.10px;">Status</div>
<div class="t" style="top:394.60px;font-size:6.5px;font-weight:700;color:#2a2e35;letter-spacing:-0.239px;left:430.00px;">Action</div>
<div class="t" style="top:417.60px;font-size:6.3px;font-weight:400;color:#30353c;left:63.70px;">1</div>
<div class="t" style="top:417.60px;font-size:6.3px;font-weight:400;color:#30353c;letter-spacing:0.128px;left:87.90px;">Web Development</div>
<div class="t" style="top:417.60px;font-size:6.3px;font-weight:400;color:#30353c;letter-spacing:0.164px;left:193.80px;">Programming</div>
<div class="t" style="top:417.60px;font-size:6.3px;font-weight:400;color:#30353c;letter-spacing:0.212px;left:269.30px;">6 Months</div>
<div class="t" style="top:417.60px;font-size:6.3px;font-weight:400;color:#30353c;letter-spacing:0.496px;left:330.50px;">$499</div>
<div class="t" style="top:418.30px;font-size:4.5px;font-weight:700;color:#2eae5c;letter-spacing:0.045px;left:376.80px;">Available</div>
<div class="t" style="top:440.80px;font-size:6.3px;font-weight:400;color:#30353c;left:63.70px;">2</div>
<div class="t" style="top:440.80px;font-size:6.3px;font-weight:400;color:#30353c;letter-spacing:0.142px;left:87.90px;">Graphic Design</div>
<div class="t" style="top:440.80px;font-size:6.3px;font-weight:400;color:#30353c;letter-spacing:0.165px;left:193.80px;">Design</div>
<div class="t" style="top:440.80px;font-size:6.3px;font-weight:400;color:#30353c;letter-spacing:0.212px;left:269.30px;">4 Months</div>
<div class="t" style="top:440.80px;font-size:6.3px;font-weight:400;color:#30353c;letter-spacing:0.496px;left:330.50px;">$299</div>
<div class="t" style="top:441.50px;font-size:4.5px;font-weight:700;color:#f6b22b;letter-spacing:0.055px;left:376.60px;">Limited</div>
<div class="t" style="top:464.00px;font-size:6.3px;font-weight:400;color:#30353c;left:63.70px;">3</div>
<div class="t" style="top:464.00px;font-size:6.3px;font-weight:400;color:#30353c;letter-spacing:0.112px;left:87.90px;">Data Science</div>
<div class="t" style="top:464.00px;font-size:6.3px;font-weight:400;color:#30353c;letter-spacing:0.200px;left:193.80px;">Analytics</div>
<div class="t" style="top:464.00px;font-size:6.3px;font-weight:400;color:#30353c;letter-spacing:0.212px;left:269.30px;">8 Months</div>
<div class="t" style="top:464.00px;font-size:6.3px;font-weight:400;color:#30353c;letter-spacing:0.496px;left:330.50px;">$799</div>
<div class="t" style="top:464.70px;font-size:4.5px;font-weight:700;color:#2eae5c;letter-spacing:0.045px;left:376.80px;">Available</div>
<div class="t" style="top:487.20px;font-size:6.3px;font-weight:400;color:#30353c;left:63.70px;">4</div>
<div class="t" style="top:487.20px;font-size:6.3px;font-weight:400;color:#30353c;letter-spacing:0.158px;left:87.90px;">Digital Marketing</div>
<div class="t" style="top:487.20px;font-size:6.3px;font-weight:400;color:#30353c;letter-spacing:0.216px;left:193.80px;">Marketing</div>
<div class="t" style="top:487.20px;font-size:6.3px;font-weight:400;color:#30353c;letter-spacing:0.212px;left:269.30px;">3 Months</div>
<div class="t" style="top:487.20px;font-size:6.3px;font-weight:400;color:#30353c;letter-spacing:0.396px;left:330.50px;">$199</div>
<div class="t" style="top:487.90px;font-size:4.5px;font-weight:700;color:#e8474a;letter-spacing:-0.150px;left:376.80px;">Full</div>
<div class="t" style="top:369.90px;font-size:6.7px;font-weight:700;color:#23272e;letter-spacing:0.144px;left:498.20px;">Course Schedule</div>
<div class="t" style="top:494.04px;font-size:4.7px;font-weight:400;color:#33383e;right:286.40px;-webkit-text-stroke:0.08px #33383e;">40</div>
<div class="t" style="top:471.91px;font-size:4.7px;font-weight:400;color:#33383e;right:286.40px;-webkit-text-stroke:0.08px #33383e;">60</div>
<div class="t" style="top:449.78px;font-size:4.7px;font-weight:400;color:#33383e;right:286.40px;-webkit-text-stroke:0.08px #33383e;">80</div>
<div class="t" style="top:427.65px;font-size:4.7px;font-weight:400;color:#33383e;right:286.40px;-webkit-text-stroke:0.08px #33383e;">100</div>
<div class="t" style="top:405.52px;font-size:4.7px;font-weight:400;color:#33383e;right:286.40px;-webkit-text-stroke:0.08px #33383e;">120</div>
<div class="t" style="top:483.02px;font-size:5.6px;font-weight:400;color:#1d2127;left:454.30px;width:200px;text-align:center;-webkit-text-stroke:0.1px #1d2127;">13</div>
<div class="t" style="top:469.74px;font-size:5.6px;font-weight:400;color:#1d2127;left:454.30px;width:200px;text-align:center;-webkit-text-stroke:0.1px #1d2127;">11</div>
<div class="t" style="top:452.04px;font-size:5.6px;font-weight:400;color:#1d2127;left:454.30px;width:200px;text-align:center;-webkit-text-stroke:0.1px #1d2127;">21</div>
<div class="t" style="top:435.22px;font-size:6.8px;font-weight:700;color:#16191e;left:454.30px;width:200px;text-align:center;-webkit-text-stroke:0.12px #16191e;">89</div>
<div class="t" style="top:465.32px;font-size:5.6px;font-weight:400;color:#1d2127;left:491.55px;width:200px;text-align:center;-webkit-text-stroke:0.1px #1d2127;">23</div>
<div class="t" style="top:443.19px;font-size:5.6px;font-weight:400;color:#1d2127;left:491.55px;width:200px;text-align:center;-webkit-text-stroke:0.1px #1d2127;">17</div>
<div class="t" style="top:429.91px;font-size:5.6px;font-weight:400;color:#1d2127;left:491.55px;width:200px;text-align:center;-webkit-text-stroke:0.1px #1d2127;">7</div>
<div class="t" style="top:420.84px;font-size:6.8px;font-weight:700;color:#16191e;left:491.55px;width:200px;text-align:center;-webkit-text-stroke:0.12px #16191e;">102</div>
<div class="t" style="top:482.47px;font-size:5.6px;font-weight:400;color:#1d2127;left:528.80px;width:200px;text-align:center;-webkit-text-stroke:0.1px #1d2127;">20</div>
<div class="t" style="top:463.10px;font-size:5.6px;font-weight:400;color:#1d2127;left:528.80px;width:200px;text-align:center;-webkit-text-stroke:0.1px #1d2127;">15</div>
<div class="t" style="top:440.97px;font-size:5.6px;font-weight:400;color:#1d2127;left:528.80px;width:200px;text-align:center;-webkit-text-stroke:0.1px #1d2127;">25</div>
<div class="t" style="top:421.94px;font-size:6.8px;font-weight:700;color:#16191e;left:528.80px;width:200px;text-align:center;-webkit-text-stroke:0.12px #16191e;">101</div>
<div class="t" style="top:460.34px;font-size:5.6px;font-weight:400;color:#1d2127;left:566.05px;width:200px;text-align:center;-webkit-text-stroke:0.1px #1d2127;">8</div>
<div class="t" style="top:447.61px;font-size:5.6px;font-weight:400;color:#1d2127;left:566.05px;width:200px;text-align:center;-webkit-text-stroke:0.1px #1d2127;">15</div>
<div class="t" style="top:432.12px;font-size:5.6px;font-weight:400;color:#1d2127;left:566.05px;width:200px;text-align:center;-webkit-text-stroke:0.1px #1d2127;">13</div>
<div class="t" style="top:419.73px;font-size:6.8px;font-weight:700;color:#16191e;left:566.05px;width:200px;text-align:center;-webkit-text-stroke:0.12px #16191e;">103</div>
<div class="t" style="top:488.55px;font-size:5.6px;font-weight:400;color:#1d2127;left:603.30px;width:200px;text-align:center;-webkit-text-stroke:0.1px #1d2127;">21</div>
<div class="t" style="top:464.76px;font-size:5.6px;font-weight:400;color:#1d2127;left:603.30px;width:200px;text-align:center;-webkit-text-stroke:0.1px #1d2127;">22</div>
<div class="t" style="top:447.39px;font-size:6.8px;font-weight:700;color:#16191e;left:603.30px;width:200px;text-align:center;-webkit-text-stroke:0.12px #16191e;">78</div>
<div class="t" style="top:476.38px;font-size:5.6px;font-weight:400;color:#1d2127;left:640.55px;width:200px;text-align:center;-webkit-text-stroke:0.1px #1d2127;">27</div>
<div class="t" style="top:453.70px;font-size:5.6px;font-weight:400;color:#1d2127;left:640.55px;width:200px;text-align:center;-webkit-text-stroke:0.1px #1d2127;">14</div>
<div class="t" style="top:441.53px;font-size:5.6px;font-weight:400;color:#1d2127;left:640.55px;width:200px;text-align:center;-webkit-text-stroke:0.1px #1d2127;">8</div>
<div class="t" style="top:431.90px;font-size:6.8px;font-weight:700;color:#16191e;left:640.55px;width:200px;text-align:center;-webkit-text-stroke:0.12px #16191e;">92</div>
</div></body></html>
